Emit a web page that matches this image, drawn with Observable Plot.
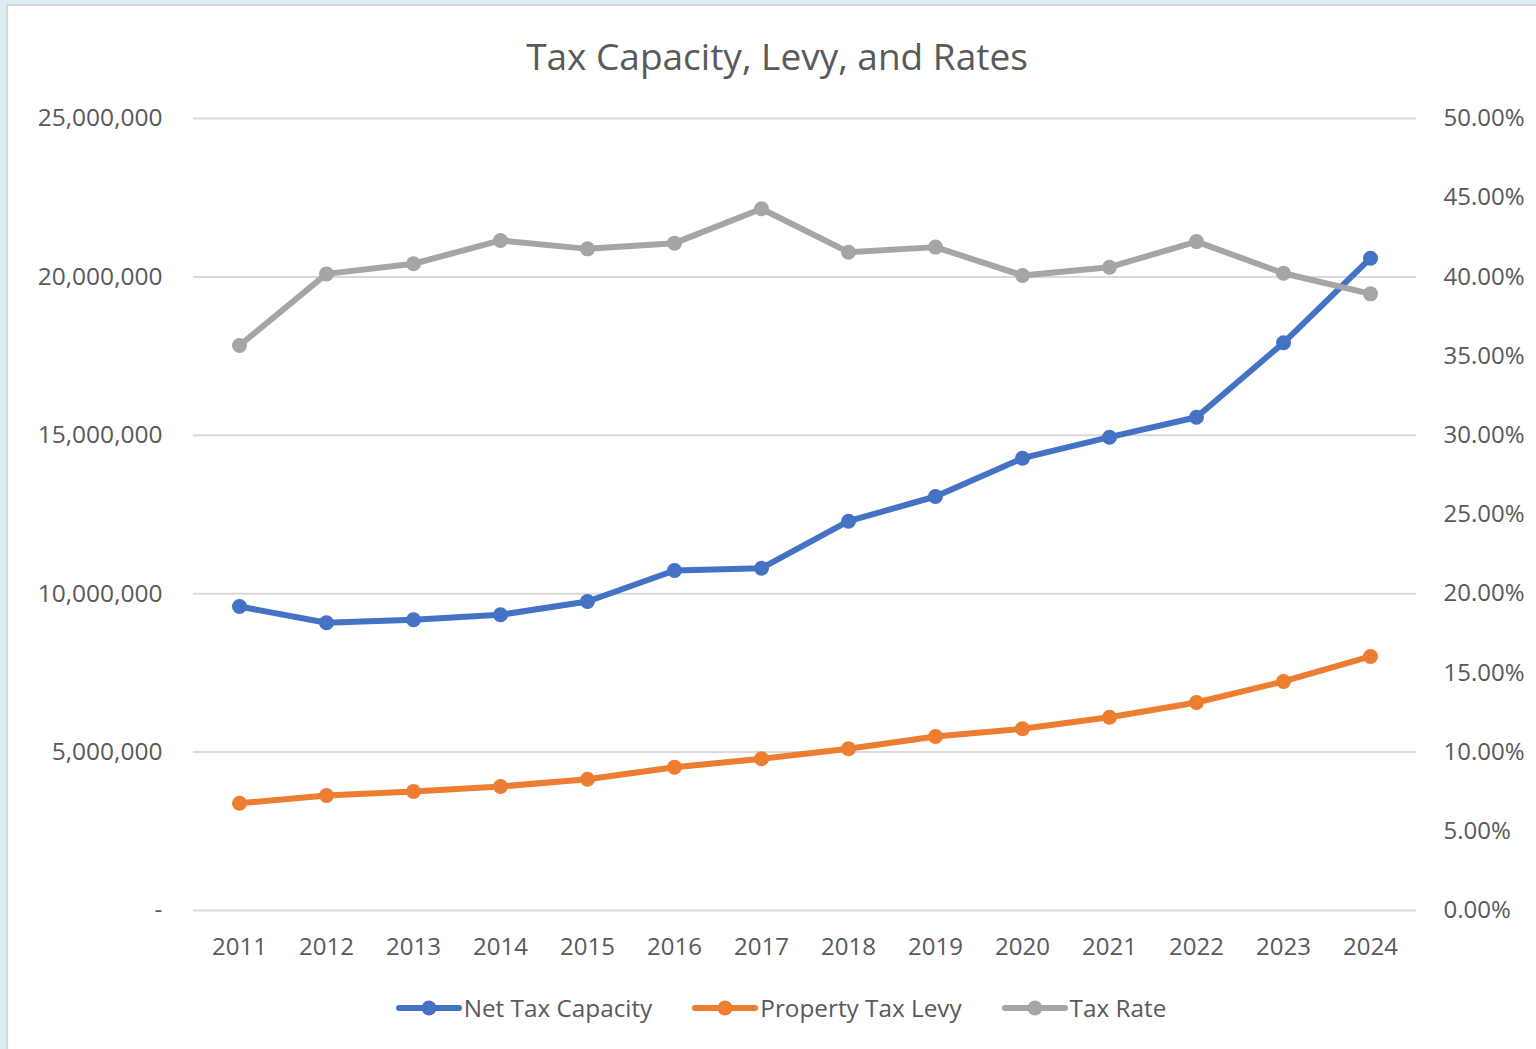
<!DOCTYPE html>
<html>
<head>
<meta charset="utf-8">
<script src="https://cdn.jsdelivr.net/npm/d3@7"></script>
<script src="https://cdn.jsdelivr.net/npm/@observablehq/plot@0.6"></script>
<style>
  html, body { margin: 0; padding: 0; }
  body { width: 1536px; height: 1049px; overflow: hidden; background: #dcedf4; position: relative; font-family: "Open Sans", sans-serif; }
  #panel { position: absolute; left: 6px; top: 4px; width: 1600px; height: 1100px; background: #fff; border: 2px solid #d6d6d6; }
  #title { position: absolute; left: 0; top: 32px; width: 1554px; text-align: center; font-size: 37px; color: #595959; line-height: 48px; }
  #chart { position: absolute; left: 0; top: 90px; }
  #legend { position: absolute; left: 0; top: 990px; width: 1562px; display: flex; justify-content: center; gap: 40px; font-size: 24.3px; color: #595959; line-height: 36px; }
  .item { display: flex; align-items: center; }
  .item svg { margin-right: 2px; }
</style>
</head>
<body>
<div id="panel"></div>
<div id="title">Tax Capacity, Levy, and Rates</div>
<div id="chart"></div>
<div id="legend"></div>
<script>
const years = ["2011","2012","2013","2014","2015","2016","2017","2018","2019","2020","2021","2022","2023","2024"];
const netTaxCapacity = [9596000, 9081000, 9176000, 9334000, 9754000, 10732000, 10805000, 12288000, 13068000, 14277000, 14940000, 15571000, 17920000, 20590000];
const propertyTaxLevy = [3387000, 3630000, 3756000, 3914000, 4145000, 4523000, 4788000, 5104000, 5492000, 5735000, 6102000, 6566000, 7229000, 8018000];
const taxRate = [35.67, 40.19, 40.83, 42.30, 41.77, 42.13, 44.30, 41.56, 41.88, 40.09, 40.61, 42.23, 40.23, 38.93]; // percent
const leftTicks = [0, 5000000, 10000000, 15000000, 20000000, 25000000];
const rightTicks = [0, 5, 10, 15, 20, 25, 30, 35, 40, 45, 50]; // percent
const seriesNames = ["Net Tax Capacity", "Property Tax Levy", "Tax Rate"];
const colors = ["#4472C4", "#ED7D31", "#A5A5A5"];

// secondary axis: 50% maps to 25,000,000 on the shared scale
const rateToY = p => p / 50 * 25000000;

const capData = years.map((y, i) => ({year: y, v: netTaxCapacity[i]}));
const levyData = years.map((y, i) => ({year: y, v: propertyTaxLevy[i]}));
const rateData = years.map((y, i) => ({year: y, v: rateToY(taxRate[i])}));

const fmtLeft = d => d === 0 ? "-" : d3.format(",")(d);

const chart = Plot.plot({
  width: 1536,
  height: 880,
  marginLeft: 193,
  marginRight: 120,
  marginTop: 28,
  marginBottom: 60,
  style: {fontFamily: "Open Sans, sans-serif", fontSize: "24px", color: "#595959", background: "transparent", overflow: "visible"},
  x: {type: "point", domain: years, padding: 0.5},
  y: {domain: [0, 25000000]},
  marks: [
    Plot.gridY(leftTicks, {stroke: "#d9d9d9", strokeOpacity: 1, strokeWidth: 2}),
    Plot.axisY(leftTicks, {anchor: "left", tickSize: 0, tickPadding: 31, tickFormat: fmtLeft, label: null, fontSize: 24.5}),
    Plot.axisY(rightTicks.map(rateToY), {anchor: "right", tickSize: 0, tickPadding: 27, tickFormat: d => (d / 25000000 * 50).toFixed(2) + "%", label: null, fontSize: 24}),
    Plot.axisX({tickSize: 0, tickPadding: 27, label: null, fontSize: 24}),
    Plot.line(capData, {x: "year", y: "v", stroke: colors[0], strokeWidth: 6}),
    Plot.dot(capData, {x: "year", y: "v", fill: colors[0], r: 7.5}),
    Plot.line(levyData, {x: "year", y: "v", stroke: colors[1], strokeWidth: 6}),
    Plot.dot(levyData, {x: "year", y: "v", fill: colors[1], r: 7.5}),
    Plot.line(rateData, {x: "year", y: "v", stroke: colors[2], strokeWidth: 6}),
    Plot.dot(rateData, {x: "year", y: "v", fill: colors[2], r: 7.5})
  ]
});
document.getElementById("chart").appendChild(chart);

const legend = document.getElementById("legend");
seriesNames.forEach((name, i) => {
  const item = document.createElement("div");
  item.className = "item";
  item.innerHTML = `<svg width="66" height="20"><line x1="3" y1="10" x2="63" y2="10" stroke="${colors[i]}" stroke-width="6" stroke-linecap="round"/><circle cx="33" cy="10" r="7.5" fill="${colors[i]}"/></svg><span>${name}</span>`;
  legend.appendChild(item);
});
</script>
</body>
</html>
